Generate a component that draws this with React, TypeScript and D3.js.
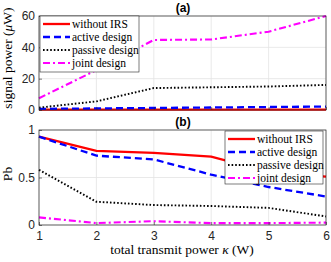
import React, { useEffect, useRef } from 'react';
import * as d3 from 'd3';

const powers = [1, 2, 3, 4, 5, 6];
const seriesNames = ['without IRS', 'active design', 'passive design', 'joint design'];

const signalWithout = [0.2, 0.2, 0.2, 0.2, 0.2, 0.2];
const signalActive = [0.7, 1.0, 1.3, 1.6, 1.9, 2.2];
const signalPassive = [1.5, 5.5, 14, 14.5, 15, 16];
const signalJoint = [7.5, 25.5, 44.7, 45, 50, 60];

const pbWithout = [0.93, 0.78, 0.76, 0.72, 0.56, 0.51];
const pbActive = [0.93, 0.73, 0.69, 0.53, 0.4, 0.3];
const pbPassive = [0.58, 0.245, 0.21, 0.2, 0.18, 0.09];
const pbJoint = [0.08, 0.02, 0.04, 0.02, 0.02, 0.025];

const signalTicks = [0, 20, 40, 60];
const pbTicks = [0, 0.5, 1];

const styles = [
  { color: '#ff0000', dash: null, width: 2.3 },
  { color: '#0000ff', dash: '7,4', width: 2.3 },
  { color: '#000000', dash: '1.6,2', width: 1.9 },
  { color: '#ff00ff', dash: '7,3,2,3', width: 2.1 }
];

export default function App() {
  const ref = useRef<SVGSVGElement>(null);

  useEffect(() => {
    const svg = d3.select(ref.current);
    svg.selectAll('*').remove();

    const left = 39;
    const right = 326;

    const x = d3.scaleLinear().domain([1, 6]).range([left, right]);

    const panels = [
      {
        top: 16, bottom: 110, domain: [0, 60], ticks: signalTicks,
        data: [signalWithout, signalActive, signalPassive, signalJoint],
        title: '(a)', titleY: 12, showX: false,
        legend: { x: 40, y: 16, w: 99, h: 56 }
      },
      {
        top: 130, bottom: 225, domain: [0, 1], ticks: pbTicks,
        data: [pbWithout, pbActive, pbPassive, pbJoint],
        title: '(b)', titleY: 126, showX: true,
        legend: { x: 225, y: 131, w: 98, h: 53 }
      }
    ];

    panels.forEach((p) => {
      const y = d3.scaleLinear().domain(p.domain).range([p.bottom, p.top]);
      const g = svg.append('g');

      // grid
      g.selectAll('.gx').data(powers).enter().append('line')
        .attr('x1', (d) => x(d)).attr('x2', (d) => x(d))
        .attr('y1', p.top).attr('y2', p.bottom)
        .attr('stroke', '#e3e3e3').attr('stroke-width', 0.8);
      g.selectAll('.gy').data(p.ticks).enter().append('line')
        .attr('x1', left).attr('x2', right)
        .attr('y1', (d) => y(d)).attr('y2', (d) => y(d))
        .attr('stroke', '#e3e3e3').attr('stroke-width', 0.8);

      // lines
      p.data.forEach((vals, i) => {
        const line = d3.line<number>()
          .x((_, j) => x(powers[j]))
          .y((d) => y(d));
        g.append('path')
          .datum(vals)
          .attr('d', line)
          .attr('fill', 'none')
          .attr('stroke', styles[i].color)
          .attr('stroke-width', styles[i].width)
          .attr('stroke-dasharray', styles[i].dash);
      });

      // axes
      const yAxis = d3.axisLeft(y).tickValues(p.ticks).tickSize(-3).tickPadding(4)
        .tickFormat((d) => String(d));
      const ga = g.append('g').attr('transform', `translate(${left},0)`).call(yAxis);
      const xAxis = d3.axisBottom(x).tickValues(powers).tickSize(-3).tickPadding(6)
        .tickFormat((d) => (p.showX ? String(d) : ''));
      const gb = g.append('g').attr('transform', `translate(0,${p.bottom})`).call(xAxis);
      [ga, gb].forEach((a) => {
        a.select('.domain').remove();
        a.selectAll('line').attr('stroke', '#262626').attr('stroke-width', 0.6);
        a.selectAll('text').attr('fill', '#262626')
          .style('font-family', 'Liberation Sans, Arial, sans-serif').style('font-size', '12px');
      });
      g.append('rect')
        .attr('x', left).attr('y', p.top)
        .attr('width', right - left).attr('height', p.bottom - p.top)
        .attr('fill', 'none').attr('stroke', '#262626').attr('stroke-width', 0.7);

      g.append('text')
        .attr('x', 183).attr('y', p.titleY)
        .attr('text-anchor', 'middle')
        .style('font-family', 'Liberation Sans, Arial, sans-serif')
        .style('font-size', '12px').style('font-weight', 'bold')
        .text(p.title);

      // legend
      const L = p.legend;
      const lg = g.append('g');
      lg.append('rect')
        .attr('x', L.x).attr('y', L.y).attr('width', L.w).attr('height', L.h)
        .attr('fill', '#ffffff').attr('stroke', '#262626').attr('stroke-width', 0.6);
      seriesNames.forEach((name, i) => {
        const ry = L.y + 8 + i * 13;
        lg.append('line')
          .attr('x1', L.x + 3).attr('x2', L.x + 30)
          .attr('y1', ry).attr('y2', ry)
          .attr('stroke', styles[i].color)
          .attr('stroke-width', styles[i].width)
          .attr('stroke-dasharray', styles[i].dash);
        lg.append('text')
          .attr('x', L.x + 32).attr('y', ry + 3.8)
          .style('font-family', 'Liberation Serif, serif')
          .style('font-size', '11.5px')
          .attr('fill', '#000')
          .text(name);
      });
    });

    // axis labels
    const yl1 = svg.append('text')
      .attr('transform', 'translate(12,58) rotate(-90)')
      .attr('text-anchor', 'middle')
      .style('font-family', 'Liberation Serif, serif').style('font-size', '13.5px');
    yl1.append('tspan').text('signal power (');
    yl1.append('tspan').style('font-style', 'italic').text('μ');
    yl1.append('tspan').text('W)');

    svg.append('text')
      .attr('transform', 'translate(12,174) rotate(-90)')
      .attr('text-anchor', 'middle')
      .style('font-family', 'Liberation Serif, serif').style('font-size', '13.5px')
      .text('Pb');

    const xl = svg.append('text')
      .attr('x', 182).attr('y', 254)
      .attr('text-anchor', 'middle')
      .style('font-family', 'Liberation Serif, serif').style('font-size', '13.5px');
    xl.append('tspan').text('total transmit power ');
    xl.append('tspan').style('font-style', 'italic').text('κ');
    xl.append('tspan').text(' (W)');
  }, []);

  return (
    <svg ref={ref} width={331} height={262}
      style={{ position: 'absolute', left: 0, top: 0, background: '#fff' }} />
  );
}
